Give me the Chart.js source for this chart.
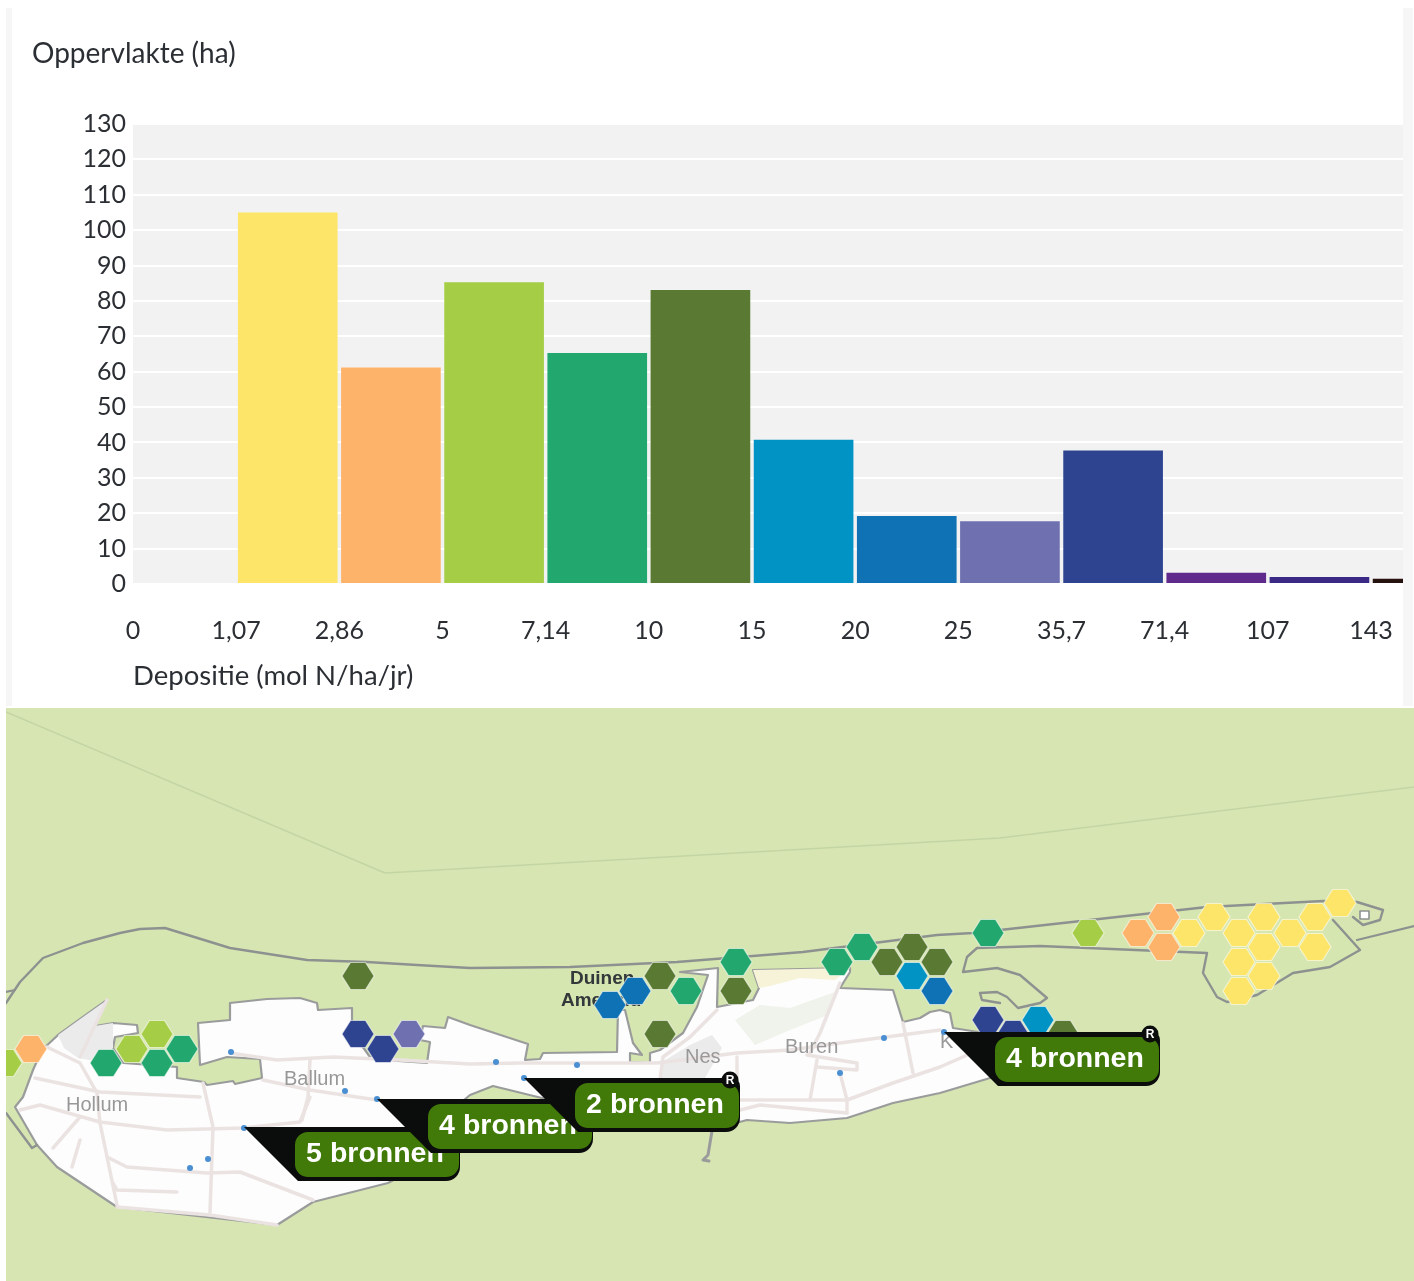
<!DOCTYPE html>
<html><head><meta charset="utf-8">
<script src="https://cdn.jsdelivr.net/npm/chart.js@4/dist/chart.umd.min.js"></script>
<style>
html,body{margin:0;padding:0;background:#fff;width:1414px;height:1281px;overflow:hidden}
#c1,#c2{position:absolute;display:block}
#c1{left:0;top:0}
#c2{left:6px;top:708px}
.strip{position:absolute;top:8px;height:698px;background:#f6f6f6}
</style></head><body>
<div class="strip" style="left:6px;width:6px"></div>
<div class="strip" style="left:1403px;width:10px"></div>
<canvas id="c1" width="1414" height="708"></canvas>
<canvas id="c2" width="1408" height="573"></canvas>
<script>
// ---- histogram data ----
const binLabels = ['0','1,07','2,86','5','7,14','10','15','20','25','35,7','71,4','107','143'];
const binValues = [0,105,61.2,85.3,65.3,83.1,40.8,19.2,17.7,37.7,3.2,2,1.5];
const binColors = ['#f2f2f2','#fde569','#feb36b','#a5cd46','#22a86e','#5a7a33','#0093c4','#0f72b5','#6e70b0','#2e4491','#5f2a8b','#3a2a85','#26120f'];
const yAxisTitle = 'Oppervlakte (ha)';
const xAxisTitle = 'Depositie (mol N/ha/jr)';

// ---- map data (map units) ----
const hexX = [358,358,383,409,157,132,182,157,106,31,6,660,635,610,686,660,736,736,837,862,887,912,912,937,937,988,1088,1138,1164,1164,1189,1214,1239,1264,1290,1315,1340,1264,1315,1239,1264,1239,988,1013,1038,1063];
const hexY = [976,1034,1049,1034,1034,1049,1049,1063,1063,1049,1063,976,991,1005,991,1034,962,991,962,947,962,947,976,962,991,933,933,933,917,947,933,917,933,917,933,917,903,947,947,962,976,991,1020,1034,1020,1034];
const hexBin = [5,9,9,8,3,3,4,4,4,2,3,5,7,7,4,5,4,5,4,4,5,5,6,5,7,4,3,2,2,2,1,1,1,1,1,1,1,1,1,1,1,1,9,9,6,5];
const dotX = [231,345,377,244,208,190,496,577,524,884,840,944];
const dotY = [1052,1091,1099,1128,1159,1168,1062,1065,1078,1038,1073,1032];
const sourceX = [244,377,524,944];
const sourceY = [1128,1100,1079,1033];
const sourceText = ['5 bronnen','4 bronnen','2 bronnen','4 bronnen'];
const sourceBadge = [false,false,true,true];
const placeText = ['Hollum','Ballum','Nes','Buren','K','Duinen','Ameland'];
const placeX = [66,284,685,785,940,570,561];
const placeY = [1105,1079,1057,1047,1042,979,1001];
const placeDark = [false,false,false,false,false,true,true];

const seaLine = [[6,712],[385,873],[1000,838],[1414,787]];
const northCoast = [[6,1003],[20,982],[43,958],[83,943],[120,933],[140,929],[165,928],[230,948],[307,960],[367,962],[417,965],[470,968],[570,967],[677,962],[803,952],[937,935],[973,933],[1090,920],[1207,907],[1323,901],[1357,902],[1383,910],[1380,920],[1363,925],[1353,917]];
const eastInner = [[1333,920],[1360,950],[1330,967],[1293,973],[1257,995],[1227,1002],[1217,997],[1203,973],[1207,953],[1040,946],[977,948],[967,957],[963,972],[997,968],[1020,975],[1047,998],[1040,1003],[1018,1008],[1007,997],[997,992],[980,993],[982,1000],[1000,1003]];
const eastShore = [[1357,940],[1414,926]];
const westNub = [[6,992],[15,990]];
const westStrip = [[6,1113],[32,1148],[37,1145]];
const pier = [[712,1131],[708,1155],[703,1160],[709,1161]];
const lightHouse = [[1360,911],[1369,911],[1369,919],[1360,919],[1360,911]];
const dunes = [[6,1003],[20,982],[43,958],[83,943],[120,933],[140,929],[165,928],[230,948],[307,960],[367,962],[417,965],[470,968],[570,967],[677,962],[803,952],[937,935],[973,933],[1090,920],[1207,907],[1323,901],[1333,920],[1360,950],[1330,967],[1293,973],[1257,995],[1227,1002],[1217,997],[1203,973],[1207,953],[1040,946],[977,948],[1000,1040],[990,1078],[940,1093],[893,1103],[847,1118],[790,1123],[747,1120],[590,1127],[470,1095],[388,1183],[313,1202],[277,1225],[117,1207],[37,1145],[6,1113]];
const island = [[15,1107],[23,1097],[33,1070],[42,1050],[58,1035],[83,1017],[107,1000],[95,1026],[113,1023],[137,1025],[138,1033],[115,1037],[113,1048],[123,1063],[177,1067],[177,1078],[204,1082],[207,1085],[233,1081],[235,1084],[262,1078],[260,1059],[227,1057],[200,1065],[198,1023],[230,1020],[230,1003],[267,999],[300,998],[317,1003],[318,1010],[352,1008],[352,1032],[370,1057],[398,1061],[427,1063],[430,1042],[420,1040],[423,1026],[445,1028],[448,1017],[470,1025],[528,1044],[525,1060],[540,1059],[543,1053],[617,1052],[618,1010],[625,1010],[633,1043],[642,1055],[630,1053],[630,1062],[650,1063],[650,1053],[660,1050],[683,1033],[697,1007],[708,975],[680,972],[718,968],[717,1007],[753,1000],[759,988],[753,970],[850,968],[850,972],[840,988],[893,990],[903,1022],[920,1018],[930,1012],[940,1010],[950,1013],[953,1028],[978,1032],[1000,1040],[990,1078],[940,1093],[893,1103],[847,1118],[790,1123],[747,1120],[710,1130],[590,1127],[550,1100],[493,1086],[470,1095],[440,1120],[450,1150],[388,1183],[313,1202],[277,1225],[117,1207],[57,1167],[37,1145],[15,1107]];
const beachPatch = [[753,970],[850,968],[835,980],[800,978],[770,986],[759,988]];
const greenPatch = [[735,1020],[760,1005],[790,1008],[835,992],[828,1015],[790,1030],[755,1045]];
const urbanWest = [[58,1035],[83,1017],[107,1000],[95,1026],[113,1023],[113,1048],[100,1062],[78,1058],[64,1048]];
const urbanNes = [[662,1062],[690,1045],[712,1035],[722,1048],[705,1078],[662,1078]];
const roads = [
 [[35,1078],[100,1092],[200,1097]],
 [[20,1110],[40,1105],[100,1122],[167,1130],[243,1128],[300,1122],[310,1097]],
 [[203,1083],[213,1127],[210,1212]],
 [[47,1047],[80,1063],[97,1093],[100,1123],[117,1205]],
 [[230,1053],[277,1060],[333,1057],[400,1060],[470,1064],[523,1063],[657,1063],[737,1053],[790,1050],[840,1043],[940,1030]],
 [[263,1080],[310,1090],[377,1100],[470,1110]],
 [[107,1157],[127,1167],[207,1173],[240,1172],[313,1200]],
 [[113,1183],[117,1190],[177,1192]],
 [[80,1117],[53,1148]],
 [[80,1140],[72,1167]],
 [[107,1000],[80,1057]],
 [[310,1060],[308,1097],[302,1120]],
 [[117,1207],[210,1215],[277,1225]],
 [[737,1057],[737,1100],[847,1100],[847,1113]],
 [[817,1060],[810,1100]],
 [[807,1055],[857,1063],[857,1070],[817,1067]],
 [[840,1073],[847,1100],[893,1083],[940,1067],[990,1045]],
 [[840,983],[820,1033],[810,1053]],
 [[903,1023],[913,1073]],
 [[717,1010],[690,1037],[663,1057],[660,1080]],
 [[737,1100],[720,1115],[760,1105],[847,1113]]
];

// ---- histogram ----
const textCol = '#2b2f34';
const uiFont = 'Lato, sans-serif';
const plotBg = {id:'plotBg',beforeDraw(c){const a=c.chartArea;c.ctx.save();c.ctx.fillStyle='#f2f2f2';c.ctx.fillRect(a.left,a.top,a.right-a.left,a.bottom-a.top);c.ctx.restore();}};
new Chart(document.getElementById('c1'),{
  type:'bar',
  data:{datasets:[{data:binValues.map((v,i)=>({x:i+0.5,y:v})),backgroundColor:binColors,borderWidth:0,categoryPercentage:1,barPercentage:0.966}]},
  plugins:[plotBg],
  options:{
    responsive:false,animation:false,
    layout:{padding:{left:32,right:11,top:0,bottom:0}},
    plugins:{legend:{display:false},tooltip:{enabled:false},
      title:{display:true,text:yAxisTitle,align:'start',color:textCol,font:{family:uiFont,size:28,weight:'normal',lineHeight:1.2},padding:{top:37,bottom:53.4}}},
    scales:{
      x:{type:'linear',min:0,max:12.31,offset:false,
        grid:{display:false,offset:false},border:{display:false},
        afterFit(s){s.height=124;s.paddingRight=0;s.paddingLeft=0;},
        ticks:{stepSize:1,includeBounds:false,autoSkip:false,maxRotation:0,minRotation:0,padding:24,color:textCol,font:{family:uiFont,size:25},callback:v=>binLabels[v]},
        title:{display:true,text:xAxisTitle,align:'start',color:textCol,font:{family:uiFont,size:27.5,lineHeight:1.2},padding:{top:0,bottom:15}}},
      y:{min:0,max:130,
        grid:{color:'#ffffff',lineWidth:2,drawTicks:false},border:{display:false},
        afterFit(s){s.width=101;},
        ticks:{stepSize:10,padding:7,color:textCol,font:{family:uiFont,size:25},autoSkip:false}}
    }
  }
});

// ---- map ----
function hexCanvas(col){
  const w=34,h=30,c=document.createElement('canvas');c.width=w;c.height=h;
  const g=c.getContext('2d');g.beginPath();
  g.moveTo(1,15);g.lineTo(9.5,1.5);g.lineTo(24.5,1.5);g.lineTo(33,15);g.lineTo(24.5,28.5);g.lineTo(9.5,28.5);g.closePath();
  g.fillStyle=col;g.fill();g.strokeStyle='rgba(255,255,255,.55)';g.lineWidth=1.2;g.stroke();
  return c;
}
const hexStyles = binColors.map(hexCanvas);
const pts = a => a.map(p=>({x:p[0],y:p[1]}));
const line = (a,o)=>Object.assign({data:pts(a),showLine:true,pointRadius:0,tension:0,borderColor:'transparent',borderWidth:0,borderJoinStyle:'round',borderCapStyle:'round'},o);
const coast='#8d9290';
const datasets = [
  line(seaLine,{borderColor:'#c4d5a4',borderWidth:1.5}),
  line(dunes,{areaFill:'#d6e6b0'}),
  line(island,{areaFill:'#fdfdfd',borderColor:'#9a9c9c',borderWidth:2.2}),
  line(beachPatch,{areaFill:'#f6f3d8'}),
  line(greenPatch,{areaFill:'#f0f3ec'}),
  line(urbanWest,{areaFill:'#ebebec'}),
  line(urbanNes,{areaFill:'#ebebec'}),
  ...roads.map(r=>line(r,{borderColor:'#ebe3e2',borderWidth:3.5})),
  line(northCoast,{borderColor:coast,borderWidth:2.4}),
  line(eastInner,{borderColor:coast,borderWidth:2.4}),
  line(eastShore,{borderColor:coast,borderWidth:2.2}),
  line(westNub,{borderColor:coast,borderWidth:2.2}),
  line(westStrip,{borderColor:coast,borderWidth:2.4}),
  line(pier,{borderColor:'#9a9c9c',borderWidth:3}),
  line(lightHouse,{areaFill:'#fff',borderColor:coast,borderWidth:1.6}),
  {isPlaces:true,data:dotX.map((x,i)=>({x,y:dotY[i]})),pointRadius:3,pointBackgroundColor:'#4a8fd2',pointBorderWidth:0,showLine:false},
  {data:hexX.map((x,i)=>({x,y:hexY[i]})),pointRadius:14,pointStyle:hexBin.map(b=>hexStyles[b]),showLine:false}
];
datasets.forEach((d,i)=>d.order=-i);

const mapLayers = {id:'mapLayers',
  beforeDraw(c){c.ctx.save();c.ctx.fillStyle='#d7e5b3';c.ctx.fillRect(0,0,c.width,c.height);c.ctx.restore();},
  beforeDatasetDraw(c,args){
    const d=c.data.datasets[args.index],g=c.ctx;
    if(d.areaFill){
      g.save();g.beginPath();
      args.meta.data.forEach((p,i)=>i?g.lineTo(p.x,p.y):g.moveTo(p.x,p.y));
      g.closePath();g.fillStyle=d.areaFill;g.fill();g.restore();
    }
    if(d.isPlaces){
      const X=c.scales.x,Y=c.scales.y;
      g.save();g.textBaseline='middle';g.textAlign='left';
      placeText.forEach((t,i)=>{
        g.font=(placeDark[i]?'bold 19px':'20px')+' "Liberation Sans", sans-serif';
        g.fillStyle=placeDark[i]?'#33383a':'#989898';
        g.fillText(t,X.getPixelForValue(placeX[i]),Y.getPixelForValue(placeY[i]));
      });
      g.restore();
    }
  },
  afterDatasetsDraw(c){
    const g=c.ctx,X=c.scales.x,Y=c.scales.y;
    const rr=(x,y,w,h,r)=>{g.beginPath();g.roundRect(x,y,w,h,r);g.fill();};
    sourceText.forEach((t,i)=>{
      const ax=X.getPixelForValue(sourceX[i]),ay=Y.getPixelForValue(sourceY[i]);
      g.save();
      g.fillStyle='#0a0d0b';
      g.beginPath();g.moveTo(ax,ay-1);g.lineTo(ax+70,ay-1);g.lineTo(ax+70,ay+53);g.lineTo(ax+54,ay+53);g.closePath();g.fill();
      rr(ax+48,ay-1,168,54,[0,8,14,14]);
      g.fillStyle='#417a08';
      rr(ax+51,ay+4,164,45,13);
      g.fillStyle='#fff';g.font='bold 28.5px "Liberation Sans", sans-serif';g.textAlign='center';g.textBaseline='middle';
      g.fillText(t,ax+131,ay+26);
      if(sourceBadge[i]){
        g.fillStyle='#0a0d0b';g.beginPath();g.arc(ax+206,ay+1,8.5,0,Math.PI*2);g.fill();
        g.fillStyle='#fff';g.font='bold 12px "Liberation Sans", sans-serif';g.fillText('R',ax+206,ay+1.5);
      }
      g.restore();
    });
  }
};
new Chart(document.getElementById('c2'),{
  type:'scatter',
  data:{datasets},
  plugins:[mapLayers],
  options:{
    responsive:false,animation:false,
    layout:{padding:0,autoPadding:false},
    plugins:{legend:{display:false},tooltip:{enabled:false},title:{display:false}},
    scales:{
      x:{type:'linear',display:false,min:6,max:1414},
      y:{type:'linear',display:false,min:708,max:1281,reverse:true}
    }
  }
});
</script>
</body></html>
